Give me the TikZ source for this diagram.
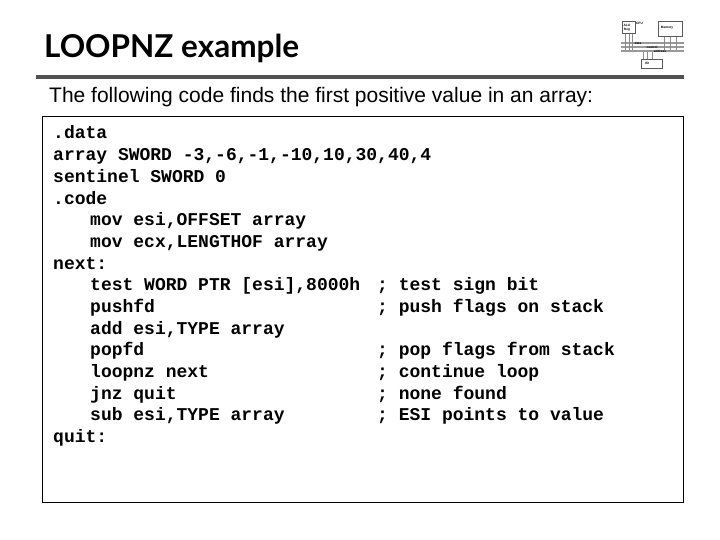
\documentclass[tikz,border=0pt]{standalone}
\usepackage{fontspec}
\setmainfont{Liberation Sans}
\setmonofont{Liberation Mono}
\newfontfamily\titlefont{Lato}
\begin{document}
\begin{tikzpicture}
    [x=1pt,y=-1pt,
    code/.style={anchor=base west,inner sep=0pt,font=\ttfamily\bfseries\fontsize{18}{18}\selectfont},
    unit/.style={draw=black!65,line width=0.6pt,fill=white,inner sep=0pt},
    bus/.style={fill=black!40,inner sep=0pt,minimum width=63pt,minimum height=2.4pt},
    wire/.style={draw=black!45,line width=0.9pt},
    tiny/.style={inner sep=0pt,font=\bfseries\fontsize{3.2}{3.2}\selectfont}]
	\useasboundingbox (0,0) rectangle (720,540);
	\fill[white] (0,0) rectangle (720,540);

	\node [anchor=base west,inner sep=0pt,font=\titlefont\bfseries\fontsize{31.5}{31.5}\selectfont] (title) at (44,57.5) {LOOPNZ example};
	\node [fill=black!68,inner sep=0pt,minimum width=648pt,minimum height=4pt,anchor=west] (rule) at (36,77) {};
	\node [anchor=base west,inner sep=0pt,font=\fontsize{21}{21}\selectfont] (intro) at (49,103) {The following code finds the first positive value in an array:};
	\node [draw,line width=0.8pt,anchor=north west,inner sep=0pt,minimum width=641pt,minimum height=386pt] (listing) at (42,116) {};

	% code lines, left column
	\foreach \name/\row/\col/\txt in {
		data/0/53/{.data},
		arr/1/53/{array SWORD -3,-6,-1,-10,10,30,40,4},
		sent/2/53/{sentinel SWORD 0},
		codeseg/3/53/{.code},
		movesi/4/90/{mov esi,OFFSET array},
		movecx/5/90/{mov ecx,LENGTHOF array},
		next/6/53/{next:},
		testw/7/90/{test WORD PTR [esi],8000h},
		pushf/8/90/{pushfd},
		addesi/9/90/{add esi,TYPE array},
		popf/10/90/{popfd},
		loopn/11/90/{loopnz next},
		jump/12/90/{jnz quit},
		subesi/13/90/{sub esi,TYPE array},
		quit/14/53/{quit:}}
		\node [code] (\name) at (\col,139+21.67*\row) {\txt};

	% comments, right column
	\foreach \name/\row/\txt in {
		ctest/7/{; test sign bit},
		cpush/8/{; push flags on stack},
		cpop/10/{; pop flags from stack},
		cloop/11/{; continue loop},
		cnone/12/{; none found},
		cesi/13/{; ESI points to value}}
		\node [code] (\name) at (377,139+21.67*\row) {\txt};

	% small thumbnail, top right
	\node [bus] (busa) at (652.5,43) {};
	\node [bus] (busb) at (652.5,47) {};
	\node [bus] (busc) at (652.5,51) {};
	\node [unit,anchor=north west,minimum width=13pt,minimum height=12pt] (cpu) at (622,21) {};
	\node [unit,anchor=north west,minimum width=24pt,minimum height=15pt] (mem) at (658,21) {};
	\node [unit,anchor=north west,minimum width=21pt,minimum height=9pt] (io) at (641,59) {};
	\foreach \dx in {-3,1,4}
		\draw [wire] ([xshift=\dx pt]cpu.south) -- ([xshift=\dx pt]cpu.south |- busc.north);
	\foreach \dx in {-6,0,6}
		\draw [wire] ([xshift=\dx pt]mem.south) -- ([xshift=\dx pt]mem.south |- busc.north);
	\foreach \dx in {-8,-4,1}
		\draw [wire] ([xshift=\dx pt]io.north) -- ([xshift=\dx pt]io.north |- busc.south);
	\node [tiny] (cpulabel) at (639.5,23) {CPU};
	\node [tiny] (alulabel) at (627,25) {ALU};
	\node [tiny] (reglabel) at (627,30) {Reg};
	\node [tiny] (memlabel) at (667,27.5) {Memory};
	\node [tiny] (buslabel) at (638,43) {data};
	\node [tiny] (ctrllabel) at (652,47) {control};
	\node [tiny] (addrlabel) at (660,51) {address};
	\node [tiny] (iolabel) at (647,63) {I/O};
\end{tikzpicture}
\end{document}
